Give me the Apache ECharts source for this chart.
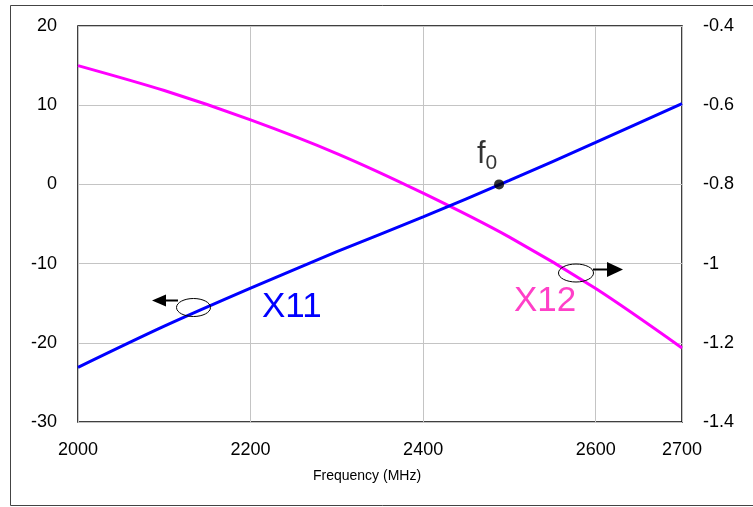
<!DOCTYPE html>
<html>
<head>
<meta charset="utf-8">
<script src="https://cdn.jsdelivr.net/npm/echarts@6/dist/echarts.min.js"></script>
<style>
  html, body { margin: 0; padding: 0; background: #fff; }
  #main { width: 753px; height: 507px; }
</style>
</head>
<body>
<div id="main"></div>
<script>
// frequency points (MHz)
var freq = [2000, 2100, 2200, 2300, 2400, 2500, 2600, 2700];
// X11, left axis
var x11 = [-23.1, -17.9, -13.1, -8.5, -4.1, 0.5, 5.3, 10.2];
// X12, right axis
var x12 = [-0.50, -0.563, -0.637, -0.722, -0.822, -0.933, -1.063, -1.213];
// marked frequency f0
var f0 = [2488, 0];

var font = 'Liberation Sans, Arial, sans-serif';

function pairs(xs, ys) {
    return xs.map(function (x, i) { return [x, ys[i]]; });
}

var myChart = echarts.init(document.getElementById('main'));
myChart.setOption({
    animation: false,
    backgroundColor: '#fff',
    grid: {
        left: 78, right: 71, top: 26, bottom: 85,
        show: true, borderColor: '#000', borderWidth: 1.5,
        backgroundColor: 'transparent'
    },
    xAxis: {
        type: 'value', min: 2000, max: 2700, interval: 200,
        name: 'Frequency (MHz)', nameLocation: 'middle', nameGap: 47,
        nameTextStyle: { fontFamily: font, fontSize: 14, color: '#000', padding: [0, 26, 0, 0] },
        axisLine: { show: false }, axisTick: { show: false },
        axisLabel: {
            fontFamily: font, fontSize: 18, color: '#000', margin: 19,
            formatter: function (v) { return String(v); }
        },
        splitLine: { show: true, lineStyle: { color: '#c4c4c4', width: 1 } }
    },
    yAxis: [{
        type: 'value', min: -30, max: 20, interval: 10, position: 'left',
        axisLine: { show: false }, axisTick: { show: false },
        axisLabel: { fontFamily: font, fontSize: 18, color: '#000', margin: 21, padding: [6, 0, 0, 0] },
        splitLine: { show: true, lineStyle: { color: '#c4c4c4', width: 1 } }
    }, {
        type: 'value', min: -1.4, max: -0.4, interval: 0.2, position: 'right',
        axisLine: { show: false }, axisTick: { show: false },
        axisLabel: {
            fontFamily: font, fontSize: 18, color: '#000', margin: 21, padding: [6, 0, 0, 0],
            formatter: function (v) { return String(Math.round(v * 10) / 10); }
        },
        splitLine: { show: false }
    }],
    series: [{
        name: 'X11', type: 'line', yAxisIndex: 0, smooth: 0.3,
        data: pairs(freq, x11), showSymbol: false,
        lineStyle: { color: '#0000ff', width: 3 }, z: 3
    }, {
        name: 'X12', type: 'line', yAxisIndex: 1, smooth: 0.3,
        data: pairs(freq, x12), showSymbol: false,
        lineStyle: { color: '#ff00ff', width: 3 }, z: 2
    }, {
        name: 'f0', type: 'scatter', yAxisIndex: 0,
        data: [f0], symbolSize: 10,
        itemStyle: { color: '#000' }, z: 5,
        label: {
            show: true, position: 'top', distance: 6,
            formatter: '{a|f}{b|0}',
            rich: {
                a: { fontFamily: font, fontSize: 31, color: '#000' },
                b: { fontFamily: font, fontSize: 21, color: '#000', padding: [16, 0, 0, 0] }
            },
            offset: [-12, 0]
        }
    }],
    graphic: [
        // outer frame
        { type: 'rect', shape: { x: 10.5, y: 5.5, width: 745, height: 500 },
          style: { fill: 'none', stroke: '#444', lineWidth: 1 }, silent: true },
        // X11 annotation: ellipse and arrow to the left
        { type: 'ellipse', shape: { cx: 193.5, cy: 307.5, rx: 17, ry: 9 },
          style: { fill: 'none', stroke: '#000', lineWidth: 1 }, z: 10 },
        { type: 'line', shape: { x1: 178, y1: 300.5, x2: 164, y2: 300.5 },
          style: { stroke: '#000', lineWidth: 2 }, z: 10 },
        { type: 'polygon', shape: { points: [[152, 300.5], [166, 294.5], [166, 306.5]] },
          style: { fill: '#000' }, z: 10 },
        { type: 'text', x: 262, y: 307, z: 10,
          style: { text: 'X11', fontFamily: font, fontSize: 35, fill: '#0000ff',
                   textAlign: 'left', textVerticalAlign: 'middle' } },
        // X12 annotation: ellipse and arrow to the right
        { type: 'ellipse', shape: { cx: 576, cy: 273, rx: 17.5, ry: 9 },
          style: { fill: 'none', stroke: '#000', lineWidth: 1 }, z: 10 },
        { type: 'line', shape: { x1: 593, y1: 269.5, x2: 609, y2: 269.5 },
          style: { stroke: '#000', lineWidth: 2 }, z: 10 },
        { type: 'polygon', shape: { points: [[623, 269.5], [607, 262], [607, 277]] },
          style: { fill: '#000' }, z: 10 },
        { type: 'text', x: 514, y: 301, z: 10,
          style: { text: 'X12', fontFamily: font, fontSize: 35, fill: '#ff40c8',
                   textAlign: 'left', textVerticalAlign: 'middle' } }
    ]
});
</script>
</body>
</html>
